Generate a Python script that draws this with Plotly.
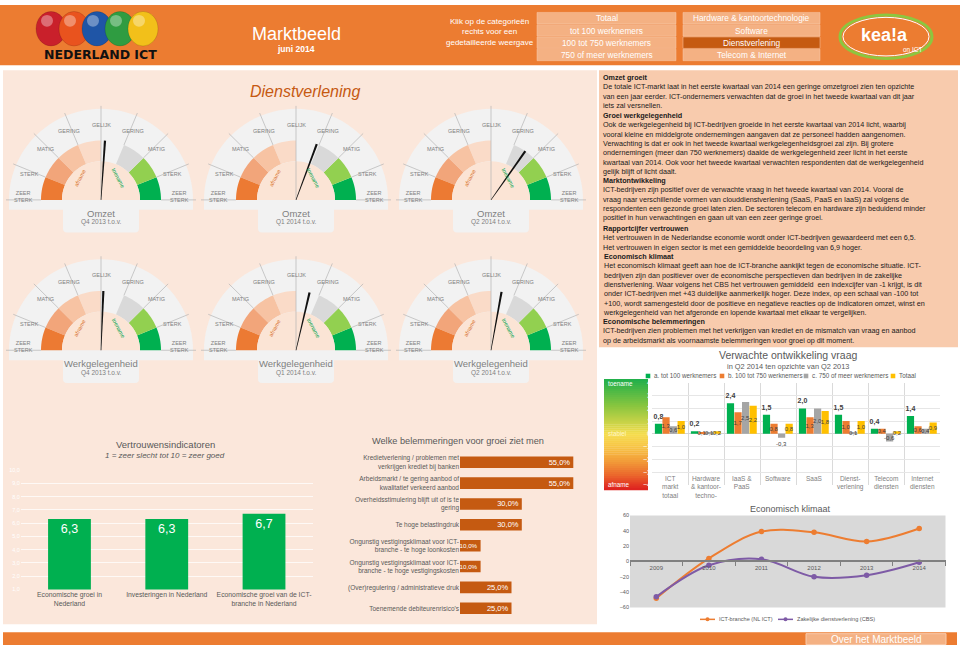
import math
import plotly.graph_objects as go

W, H = 960, 655


def X(px):
    return px / W


def Y(py):
    return 1 - py / H


FONT = "Liberation Sans, Arial, sans-serif"
DARK = "#404040"
GRAY = "#595959"
LGRAY = "#7F7F7F"
ORANGE = "#ED7D31"
DORANGE = "#C55A11"
GREEN = "#00B050"
LORANGE = "#F4B183"

# ------------------------------------------------------------------ data
header_buttons_left = ["Totaal", "tot 100 werknemers", "100 tot 750 werknemers", "750 of meer werknemers"]
header_buttons_right = ["Hardware & kantoortechnologie", "Software", "Dienstverlening", "Telecom & Internet"]
selected_sector = "Dienstverlening"

gauge_titles = ["Omzet", "Omzet", "Omzet", "Werkgelegenheid", "Werkgelegenheid", "Werkgelegenheid"]
gauge_periods = ["Q4 2013 t.o.v.", "Q1 2014 t.o.v.", "Q2 2014 t.o.v.",
                 "Q4 2013 t.o.v.", "Q1 2014 t.o.v.", "Q2 2014 t.o.v."]
# score from -4 (zeer sterke afname) to +4 (zeer sterke toename)
gauge_scores = [0.17, 0.9, 1.55, 0.1, 0.58, 0.45]
gauge_scale_labels = ["ZEER<br>STERK", "STERK", "MATIG", "GERING", "GELIJK",
                      "GERING", "MATIG", "STERK", "ZEER<br>STERK"]

trust_categories = ["Economische groei in<br>Nederland", "Investeringen in Nederland",
                    "Economische groei van de ICT-<br>branche in Nederland"]
trust_values = [6.3, 6.3, 6.7]

obstacle_categories = [
    "Kredietverlening / problemen met<br>verkrijgen krediet bij banken",
    "Arbeidsmarkt / te gering aanbod of<br>kwalitatief verkeerd aanbod",
    "Overheidsstimulering blijft uit of is te<br>gering",
    "Te hoge belastingdruk",
    "Ongunstig vestigingsklimaat voor ICT-<br>branche - te hoge loonkosten",
    "Ongunstig vestigingsklimaat voor ICT-<br>branche - te hoge vestigingskosten",
    "(Over)regulering / administratieve druk",
    "Toenemende debiteurenrisico's",
]
obstacle_values = [55, 55, 30, 30, 10, 10, 25, 25]

demand_categories = ["ICT markt totaal", "Hardware & kantoortechnologie", "IaaS & PaaS", "Software",
                     "SaaS", "Dienstverlening", "Telecom diensten", "Internet diensten"]
demand_tick_labels = ["ICT<br>markt<br>totaal", "Hardware<br>& kantoor-<br>techno-", "IaaS &<br>PaaS",
                      "Software", "SaaS", "Dienst-<br>verlening", "Telecom<br>diensten", "Internet<br>diensten"]
demand_series_names = ["a. tot 100 werknemers", "b. 100 tot 750 werknemers",
                       "c. 750 of meer werknemers", "Totaal"]
demand_small = [0.8, 0.2, 2.4, 1.5, 2.0, 1.5, 0.4, 1.4]
demand_medium = [1.3, 0.1, 1.7, 0.8, 1.3, 1.0, 0.4, 0.6]
demand_large = [0.6, 0.1, 2.5, -0.3, 2.0, 0.1, -0.6, 0.4]
demand_total = [1.0, 0.2, 2.2, 0.8, 1.8, 1.0, 0.2, 0.9]
demand_colors = ["#00B050", "#ED7D31", "#A5A5A5", "#FFC000"]

climate_years = ["2009", "2010", "2011", "2012", "2013", "2014"]
climate_ict = [-48, 4, 39, 38, 26, 43]
climate_cbs = [-46, -5, 3, -20, -18, -1]
climate_names = ["ICT-branche (NL ICT)", "Zakelijke dienstverlening (CBS)"]
climate_colors = ["#ED7D31", "#7E5BA6"]

# ------------------------------------------------------------------ helpers
shapes = []
annotations = []


def pstr(pts, close=True):
    s = "M " + " L ".join(f"{X(x):.5f},{Y(y):.5f}" for x, y in pts)
    return s + (" Z" if close else "")


def arc(cx, cy, r, a0, a1, n=16):
    out = []
    for i in range(n + 1):
        a = math.radians(a0 + (a1 - a0) * i / n)
        out.append((cx + r * math.cos(a), cy - r * math.sin(a)))
    return out


def add_poly(pts, fill, line_color=None, width=0):
    shapes.append(dict(type="path", xref="paper", yref="paper", path=pstr(pts), fillcolor=fill,
                       line=dict(color=line_color or fill, width=width), layer="below"))


def add_rect(x0, y0, x1, y1, fill, line_color=None, width=0):
    shapes.append(dict(type="rect", xref="paper", yref="paper", x0=X(x0), x1=X(x1), y0=Y(y1), y1=Y(y0),
                       fillcolor=fill, line=dict(color=line_color or fill, width=width), layer="below"))


def add_line(x0, y0, x1, y1, color, width=1):
    shapes.append(dict(type="line", xref="paper", yref="paper", x0=X(x0), x1=X(x1), y0=Y(y0), y1=Y(y1),
                       line=dict(color=color, width=width), layer="below"))


def add_ellipse(cx, cy, rx, ry, fill, line_color=None, width=0, opacity=1):
    shapes.append(dict(type="circle", xref="paper", yref="paper", x0=X(cx - rx), x1=X(cx + rx),
                       y0=Y(cy + ry), y1=Y(cy - ry), fillcolor=fill, opacity=opacity,
                       line=dict(color=line_color or fill, width=width), layer="below"))


def rrect(x0, y0, x1, y1, r, fill):
    p = (f"M {X(x0 + r)},{Y(y0)} L {X(x1 - r)},{Y(y0)} Q {X(x1)},{Y(y0)} {X(x1)},{Y(y0 + r)} "
         f"L {X(x1)},{Y(y1 - r)} Q {X(x1)},{Y(y1)} {X(x1 - r)},{Y(y1)} L {X(x0 + r)},{Y(y1)} "
         f"Q {X(x0)},{Y(y1)} {X(x0)},{Y(y1 - r)} L {X(x0)},{Y(y0 + r)} Q {X(x0)},{Y(y0)} {X(x0 + r)},{Y(y0)} Z")
    shapes.append(dict(type="path", xref="paper", yref="paper", path=p, fillcolor=fill,
                       line=dict(color=fill, width=0), layer="below"))


def text(x, y, s, size, color, xanchor="center", yanchor="middle", align="center", angle=0, family=FONT):
    annotations.append(dict(x=X(x), y=Y(y), xref="paper", yref="paper", text=s, showarrow=False,
                            font=dict(size=size, color=color, family=family), xanchor=xanchor,
                            yanchor=yanchor, align=align, textangle=angle))


# ------------------------------------------------------------------ backgrounds
add_rect(0, 1, 960, 62, "#EC7C31")
add_rect(3, 67, 597, 627, "#FBE7DB")
add_rect(599, 67, 958, 347, "#F8CBAD")
add_rect(3, 635, 957, 648, "#EC7C31")
add_rect(806, 636.5, 946, 647.5, LORANGE, "#F8CBAD", 1)
text(876, 642, "Over het Marktbeeld", 10, "white")

# ------------------------------------------------------------------ header
ball_colors = ["#C9202B", "#E9531E", "#1F55A6", "#2F9C41", "#F2C01A"]
for i, c in enumerate(ball_colors):
    bx = 51 + i * 23
    add_ellipse(bx, 25, 15, 17.5, c, "rgba(0,0,0,0.25)", 0.5)
    add_ellipse(bx - 4, 17, 6, 6, "white", None, 0, opacity=0.35)
text(100, 51, "<b>NEDERLAND ICT</b>", 12.5, "#111111", family="DejaVu Sans, sans-serif")

text(296, 30, "Marktbeeld", 18, "white")
text(296, 45, "<b>juni 2014</b>", 8.5, "white")
text(490, 28, "Klik op de categorieën<br>rechts voor een<br>gedetailleerde weergave", 8, "white")

for j, lab in enumerate(header_buttons_left):
    y0 = 8.5 + j * 12.4
    add_rect(537, y0, 676, y0 + 11.6, LORANGE, "#F8CBAD", 0.5)
    text(606.5, y0 + 5.9, lab, 8.3, "white")
for j, lab in enumerate(header_buttons_right):
    y0 = 8.5 + j * 12.4
    fill = DORANGE if lab == selected_sector else LORANGE
    add_rect(683, y0, 820, y0 + 11.6, fill, "#F8CBAD", 0.5)
    text(751.5, y0 + 5.9, lab, 8.3, "white")

add_ellipse(886, 33, 46, 22, "rgba(0,0,0,0)", "#8DC63F", 3)
add_ellipse(886, 33, 43, 19.5, "rgba(0,0,0,0)", "white", 1)
text(884, 31, "<b>kea!a</b>", 18, "white")
text(913, 46, "on ICT", 6.5, "white")

# ------------------------------------------------------------------ left panel title
text(305, 88, "<i>Dienstverlening</i>", 16, "#C65911")

# ------------------------------------------------------------------ gauges
R_OUT, R_RING, R_IN = 92, 60, 39
SEG_COLORS = ["#00B050", "#92D050", "#D9D9D9", None, "#FADBC8", "#F7C3A3", "#F2A57A", "#EC7A33"]
gx = [101, 296, 491]
gy = [198, 350]
for i, score in enumerate(gauge_scores):
    cx = gx[i % 3]
    cy = gy[i // 3]
    add_poly(arc(cx, cy, R_OUT, 0, 180, 48) + [(cx - R_OUT, cy + 10), (cx + R_OUT, cy + 10)], "#F2F2F2")
    for k, col in enumerate(SEG_COLORS):
        if col:
            add_poly(arc(cx, cy, R_RING, k * 22.5, (k + 1) * 22.5, 8) +
                     arc(cx, cy, R_IN, (k + 1) * 22.5, k * 22.5, 8), col)
    add_poly(arc(cx, cy, R_IN, 0, 180, 32), "#FBE4D5")
    for k in range(9):
        a = math.radians(k * 22.5)
        r0 = 0 if k == 4 else R_RING
        r1 = R_OUT + 3
        add_line(cx + r0 * math.cos(a), cy - r0 * math.sin(a), cx + r1 * math.cos(a),
                 cy - r1 * math.sin(a), "#B4B4B4", 0.7)
    # needle
    ang = math.radians(90 - score * 22.5)
    ux, uy = math.cos(ang), -math.sin(ang)
    nx, ny = -uy, ux
    L = 60
    add_poly([(cx + nx * 0.3, cy + ny * 0.3), (cx + ux * L + nx * 1.1, cy + uy * L + ny * 1.1),
              (cx + ux * L - nx * 1.1, cy + uy * L - ny * 1.1), (cx - nx * 0.3, cy - ny * 0.3)], "#111111")
    # scale labels
    for k, lab in enumerate(gauge_scale_labels):
        if k in (0, 8):
            lx = cx + (78 if k == 0 else -78)
            text(lx, cy - 3.5, lab, 5.5, LGRAY)
        else:
            a = k * 22.5 + (-2 if k < 4 else (2 if k > 4 else 0))
            r = 76
            text(cx + r * math.cos(math.radians(a)), cy - r * math.sin(math.radians(a)), lab, 5.5, LGRAY)
    text(cx - 21, cy - 22, "afname", 5.5, "#D9732F", angle=-62)
    text(cx + 17.5, cy - 22.5, "toename", 5.5, "#00A550", angle=62)
    rrect(cx - 38, cy + 2, cx + 38, cy + 33, 4, "#F2F2F2")
    text(cx, cy + 13.5, gauge_titles[i], 9.5, LGRAY)
    text(cx, cy + 22.5, gauge_periods[i], 6.5, LGRAY)

# ------------------------------------------------------------------ right text panel
sections = [
    (67.3, "<b>Omzet groeit</b><br>"
           "De totale ICT-markt laat in het eerste kwartaal van 2014 een geringe omzetgroei zien ten opzichte<br>"
           "van een jaar eerder. ICT-ondernemers verwachten dat de groei in het tweede kwartaal van dit jaar<br>"
           "iets zal versnellen."),
    (106.3, "<b>Groei werkgelegenheid</b><br>"
            "Ook de werkgelegenheid bij ICT-bedrijven groeide in het eerste kwartaal van 2014 licht, waarbij<br>"
            "vooral kleine en middelgrote ondernemingen aangaven dat ze personeel hadden aangenomen.<br>"
            "Verwachting is dat er ook in het tweede kwartaal werkgelegenheidsgroei zal zijn. Bij grotere<br>"
            "ondernemingen (meer dan 750 werknemers) daalde de werkgelegenheid zeer licht in het eerste<br>"
            "kwartaal van 2014. Ook voor het tweede kwartaal verwachten respondenten dat de werkgelegenheid<br>"
            "gelijk blijft of licht daalt."),
    (172.3, "<b>Marktontwikkeling</b><br>"
            "ICT-bedrijven zijn positief over de verwachte vraag in het tweede kwartaal van 2014. Vooral de<br>"
            "vraag naar verschillende vormen van clouddienstverlening (SaaS, PaaS en IaaS) zal volgens de<br>"
            "respondenten een gezonde groei laten zien. De sectoren telecom en hardware zijn beduidend minder<br>"
            "positief in hun verwachtingen en gaan uit van een zeer geringe groei."),
    (220.3, "<b>Rapportcijfer vertrouwen</b><br>"
            "Het vertrouwen in de Nederlandse economie wordt onder ICT-bedrijven gewaardeerd met een 6,5.<br>"
            "Het vertrouwen in eigen sector is met een gemiddelde beoordeling van 6,9 hoger."),
    (248.6, "<b>Economisch klimaat</b><br>"
            "Het economisch klimaat geeft aan hoe de ICT-branche aankijkt tegen de economische situatie. ICT-<br>"
            "bedrijven zijn dan positiever over de economische perspectieven dan bedrijven in de zakelijke<br>"
            "dienstverlening. Waar volgens het CBS het vertrouwen gemiddeld  een indexcijfer van -1 krijgt, is dit<br>"
            "onder ICT-bedrijven met +43 duidelijke aanmerkelijk hoger. Deze index, op een schaal van -100 tot<br>"
            "+100, wordt samengesteld door de positieve en negatieve reacties op de indicatoren omzet, winst en<br>"
            "werkgelegenheid van het afgeronde en lopende kwartaal met elkaar te vergelijken."),
    (314.8, "<b>Economische belemmeringen</b><br>"
            "ICT-bedrijven zien problemen met het verkrijgen van krediet en de mismatch van vraag en aanbod<br>"
            "op de arbeidsmarkt als voornaamste belemmeringen voor groei op dit moment."),
]
for top, s in sections:
    text(601, top, s, 7.2, "#1A1A1A", xanchor="left", yanchor="top", align="left")

# ------------------------------------------------------------------ chart titles
text(165, 445, "Vertrouwensindicatoren", 9.5, GRAY)
text(165, 456.5, "<i>1 = zeer slecht tot 10 = zeer goed</i>", 8, GRAY)
text(458, 442, "Welke belemmeringen voor groei ziet men", 9.2, GRAY)
text(788, 355, "Verwachte ontwikkeling vraag", 10.5, GRAY)
text(788, 366, "in Q2 2014 ten opzichte van Q2 2013", 7.4, GRAY)
text(790, 510, "Economisch klimaat", 9, GRAY)

# demand legend (manual)
leg_x = [648, 722, 806, 893]
for sx, name, col in zip(leg_x, demand_series_names, demand_colors):
    add_rect(sx - 2.3, 373.7, sx + 2.3, 378.3, col)
    text(sx + 4, 376, name, 6.3, GRAY, xanchor="left")

# gradient scale for demand chart
stops = [(0.0, (30, 175, 75)), (0.25, (140, 198, 63)), (0.5, (246, 221, 78)), (0.62, (247, 194, 68)),
         (0.75, (242, 154, 56)), (0.87, (235, 102, 44)), (1.0, (221, 31, 31))]


def grad(t):
    for (t0, c0), (t1, c1) in zip(stops[:-1], stops[1:]):
        if t0 <= t <= t1:
            f = (t - t0) / (t1 - t0)
            return "rgb(%d,%d,%d)" % tuple(round(a + (b - a) * f) for a, b in zip(c0, c1))
    return "rgb(221,31,31)"


g_top, g_bot, n_strips = 379.0, 491.0, 56
for s in range(n_strips):
    y0 = g_top + (g_bot - g_top) * s / n_strips
    y1 = g_top + (g_bot - g_top) * (s + 1) / n_strips + 0.4
    add_rect(604, y0, 648, y1, grad((s + 0.5) / n_strips))
text(606, 383.5, "toename", 6.3, "white", xanchor="left")
text(606, 434.5, "stabiel", 6.3, "#FFF6C8", xanchor="left")
text(606, 486, "afname", 6.3, "white", xanchor="left")

# demand category labels
for cat, lab in zip(demand_categories, demand_tick_labels):
    annotations.append(dict(x=cat, y=Y(474.5), xref="x3", yref="paper", text=lab, showarrow=False,
                            font=dict(size=6.5, color="#808080", family=FONT), xanchor="center",
                            yanchor="top", align="center"))

# climate legend (manual)
for (lx, name, col) in [(700, climate_names[0], climate_colors[0]), (778, climate_names[1], climate_colors[1])]:
    add_line(lx, 622, lx + 15, 622, col, 1.5)
    add_ellipse(lx + 7.5, 622, 2, 2, col)
    text(lx + 17, 622, name, 5.6, GRAY, xanchor="left")

# ------------------------------------------------------------------ traces
fig = go.Figure()

fig.add_trace(go.Bar(
    x=trust_categories, y=trust_values, xaxis="x", yaxis="y", width=0.44,
    marker=dict(color=GREEN, line=dict(width=0)), texttemplate="%{y:.1f}", textposition="inside",
    insidetextanchor="end", textangle=0, textfont=dict(size=12.5, color="white"), constraintext="none",
    cliponaxis=False, showlegend=False))

obstacle_font_sizes = [7.5 if v >= 20 else 6.2 for v in obstacle_values]
fig.add_trace(go.Bar(
    x=obstacle_values, y=obstacle_categories, orientation="h", xaxis="x2", yaxis="y2", width=0.555,
    marker=dict(color=DORANGE, line=dict(width=0)), texttemplate="%{x:.1f}%", textposition="inside",
    insidetextanchor="end", textangle=0, textfont=dict(size=obstacle_font_sizes, color="white"),
    constraintext="none", cliponaxis=False, showlegend=False))

demand_values = [demand_small, demand_medium, demand_large, demand_total]
for idx, (name, vals, col) in enumerate(zip(demand_series_names, demand_values, demand_colors)):
    if idx == 0:
        tpos = "outside"
        tmpl = "<b>%{y:.1f}</b>"
        tfont = dict(size=7, color=DARK)
    else:
        tpos = ["outside" if (idx == 2 and v < 0 and abs(v) < 0.5) else "inside" for v in vals]
        tmpl = "%{y:.1f}"
        tfont = dict(size=6, color=DARK)
    fig.add_trace(go.Bar(
        x=demand_categories, y=vals, name=name, xaxis="x3", yaxis="y3", width=0.2,
        offset=-0.42 + idx * 0.21, marker=dict(color=col, line=dict(width=0)),
        texttemplate=tmpl, textposition=tpos, insidetextanchor="middle", textangle=0, textfont=tfont,
        outsidetextfont=tfont, constraintext="none", cliponaxis=False, showlegend=False))

for name, vals, col in zip(climate_names, [climate_ict, climate_cbs], climate_colors):
    fig.add_trace(go.Scatter(
        x=climate_years, y=vals, name=name, xaxis="x4", yaxis="y4", mode="lines+markers",
        line=dict(color=col, width=2, shape="spline", smoothing=1),
        marker=dict(size=5.5, color=col), showlegend=False))

# climate plot background
shapes.insert(0, dict(type="rect", xref="paper", yref="paper", x0=X(630), x1=X(945.5), y0=Y(610), y1=Y(517),
                      fillcolor="#D9D9D9", line=dict(width=0), layer="below"))

fig.update_layout(
    width=W, height=H, autosize=False, margin=dict(l=0, r=0, t=0, b=0),
    paper_bgcolor="white", plot_bgcolor="rgba(0,0,0,0)",
    font=dict(family=FONT, color=GRAY), separators=",.", showlegend=False, barmode="group",
    shapes=shapes, annotations=annotations,
    xaxis=dict(domain=[X(20.85), X(312.65)], anchor="y", type="category", showgrid=False,
               tickfont=dict(size=6.8, color=GRAY), ticks="", showline=False, fixedrange=True),
    yaxis=dict(domain=[Y(591.7), Y(471.1)], anchor="x", range=[1, 10], dtick=1, tickformat=".1f",
               tickfont=dict(size=5.5, color="white"), gridcolor="rgba(255,255,255,0.75)", gridwidth=0.8,
               zeroline=False, showline=False, fixedrange=True),
    xaxis2=dict(domain=[X(460), X(583.6)], anchor="y2", range=[0, 60], showgrid=False, zeroline=False,
                showticklabels=False, showline=False, fixedrange=True),
    yaxis2=dict(domain=[Y(621.34), Y(452.66)], anchor="x2", type="category", autorange="reversed",
                tickfont=dict(size=6.5, color=GRAY), ticks="", showgrid=False, showline=False,
                fixedrange=True),
    xaxis3=dict(domain=[X(652), X(940)], anchor="y3", type="category", range=[-0.5, 7.5],
                showticklabels=False, showgrid=True, gridcolor="#DADADA", gridwidth=0.8,
                tickson="boundaries", ticks="", zeroline=False, showline=False, fixedrange=True),
    yaxis3=dict(domain=[Y(486), Y(383)], anchor="x3", range=[-4, 4], dtick=1,
                tickfont=dict(size=7, color="white"), gridcolor="#E6E6E6", gridwidth=0.8,
                zeroline=True, zerolinecolor="#D4D4D4", zerolinewidth=1, showline=False, fixedrange=True),
    xaxis4=dict(domain=[X(630), X(945.5)], anchor="free", position=Y(563.5), type="category",
                range=[-0.5, 5.5], showline=True, linecolor="#808080", linewidth=2, ticks="outside",
                tickson="boundaries", ticklen=4, tickcolor="#808080", tickwidth=1,
                tickfont=dict(size=6, color=GRAY), showgrid=False, zeroline=False, fixedrange=True),
    yaxis4=dict(domain=[Y(610), Y(517)], anchor="x4", range=[-60, 60], dtick=20,
                tickfont=dict(size=5.5, color=GRAY), showgrid=False, zeroline=False, showline=False,
                fixedrange=True),
)

fig.write_html("out.html", config={"displayModeBar": False},
               post_script="document.body.style.margin='0px';document.body.style.overflow='hidden';")
